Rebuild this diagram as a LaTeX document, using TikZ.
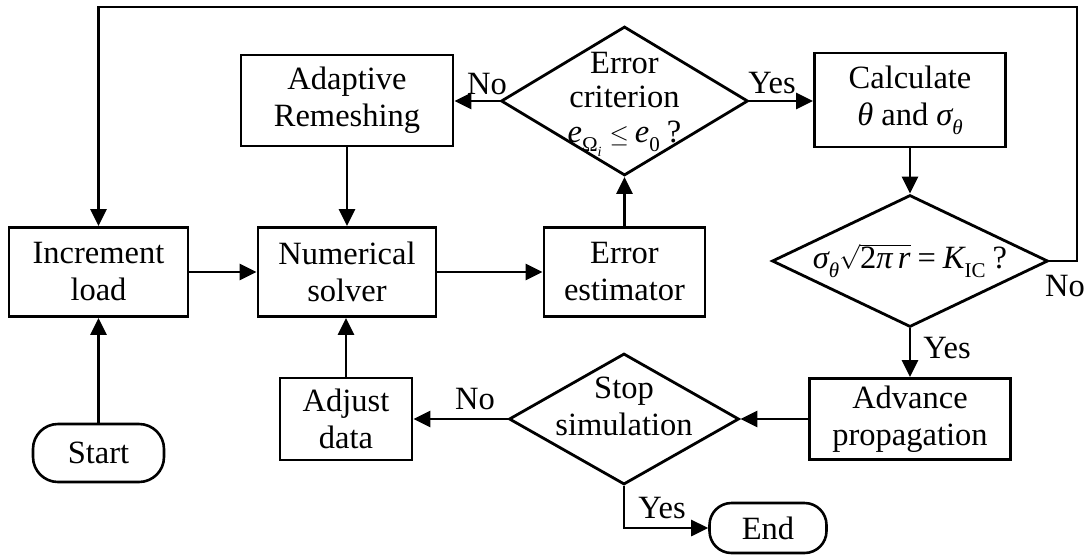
\documentclass[tikz,border=0pt]{standalone}
\usepackage{fontspec}
\setmainfont{Liberation Serif}
\usetikzlibrary{arrows.meta,shapes.geometric}

% small lowered index in the text font
\newcommand{\idx}[1]{\raisebox{-0.28em}{\fontsize{21}{21}\selectfont #1}}
\newcommand{\idxx}[1]{\raisebox{-0.22em}{\fontsize{14}{14}\selectfont #1}}

\begin{document}
\begin{tikzpicture}[x=1pt,y=-1pt,
  every node/.style={font=\fontsize{32.5}{37}\selectfont},
  box/.style={draw, line width=2.8pt, inner sep=0pt, align=center},
  dia/.style={draw, diamond, line width=2.8pt, inner sep=0pt},
  term/.style={draw, line width=2.6pt, inner sep=0pt},
  flow/.style={line width=2.7pt, -{Triangle[length=17pt,width=16pt]}},
  lbl/.style={inner sep=0pt},
  txt/.style={align=center, inner sep=0pt}]
\useasboundingbox (0,0) rectangle (1086,557);

% process boxes
\node[box, minimum width=179pt, minimum height=89pt] (inc) at (98.5,272) {Increment\\load};
\node[term, rounded corners=25pt, minimum width=131pt, minimum height=58pt] (start) at (98.5,453) {Start};
\node[box, minimum width=212pt, minimum height=91pt] (adapt) at (347,100.5) {Adaptive\\Remeshing};
\node[box, minimum width=178pt, minimum height=89pt] (num) at (347,272) {Numerical\\solver};
\node[box, minimum width=161pt, minimum height=89pt] (est) at (624.5,272) {Error\\estimator};
\node[box, minimum width=191pt, minimum height=94pt] (calc) at (910,100) {Calculate\\ {\itshape θ} and {\itshape σ}\idx{\itshape θ}};
\node[box, minimum width=201pt, minimum height=81pt] (adv) at (910,419) {Advance\\propagation};
\node[box, minimum width=132pt, minimum height=82pt] (adj) at (346,419) {Adjust\\data};
\node[term, rounded corners=22pt, minimum width=117pt, minimum height=50pt] (end) at (768,528) {End};

% decisions
\node[dia, minimum width=247pt, minimum height=149pt] (crit) at (624.5,101) {};
\node[txt] at ([yshift=-3pt]crit.center) {Error\\[-3pt]criterion\\[-2pt]{\itshape e}\idx{Ω\idxx{\itshape i}}\hspace{8pt}$\leq$\hspace{6pt}{\itshape e}\idx{0}\hspace{7pt}?};
\node[dia, minimum width=276pt, minimum height=132pt] (kic) at (910,261) {};
\node[txt] at (kic.center) {{\itshape σ}\idx{\itshape θ}$\sqrt{\hbox{2{\itshape π\,r}}}$\hspace{7pt}=\hspace{7pt}{\itshape K}\idx{IC}\hspace{7pt}?};
\node[dia, minimum width=230pt, minimum height=131pt] (stop) at (624,419) {};
\node[txt] at ([yshift=13pt]stop.center) {Stop\\simulation};

% loop-back corner
\coordinate (loopR) at (1077,7);

% connectors
\draw[flow] (start) -- (inc);
\draw[flow] (inc) -- (num);
\draw[flow] (num) -- (est);
\draw[flow] (est) -- (crit.south);
\draw[flow] (crit.west) -- (crit.west -| adapt.east);
\draw[flow] (adapt) -- (num);
\draw[flow] (crit.east) -- (crit.east -| calc.west);
\draw[flow] (calc) -- (kic.north);
\draw[flow] (kic.south) -- (adv.north);
\draw[flow] (kic.east) -| (loopR) -| (inc.north);
\draw[flow] (adv) -- (stop.east);
\draw[flow] (stop.west) -- (adj.east);
\draw[flow] (adj.north) -- (adj.north |- num.south);
\draw[flow] (stop.south) |- (end.west);

% branch labels
\node[lbl] at (487,84) {No};
\node[lbl] at (772,83) {Yes};
\node[lbl] at (1065,286) {No};
\node[lbl] at (947,348) {Yes};
\node[lbl] at (475,399) {No};
\node[lbl] at (662,508) {Yes};
\end{tikzpicture}
\end{document}
